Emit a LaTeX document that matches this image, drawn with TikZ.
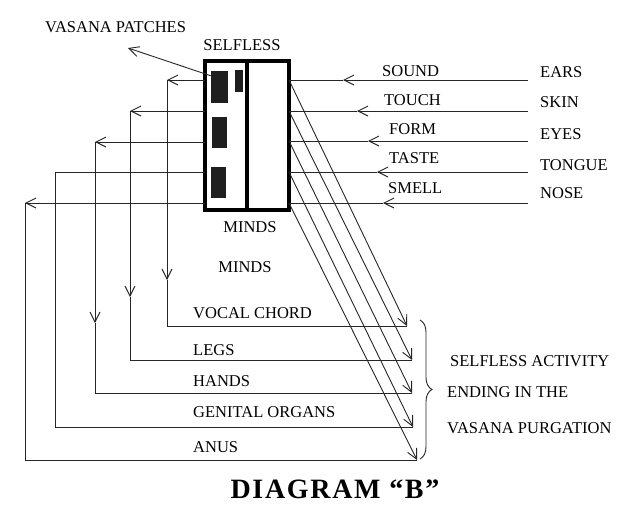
\documentclass[tikz,border=0pt]{standalone}
\usepackage{fontspec}
\setmainfont{Liberation Serif}
\usetikzlibrary{arrows.meta,decorations.pathreplacing}

\begin{document}
\begin{tikzpicture}[x=1pt,y=-1pt,
    lbl/.style={font=\fontsize{16.5}{19}\selectfont, inner sep=0pt},
    ln/.style={line width=0.9pt, black!85},
    arr/.style={ln, -{Straight Barb[length=10pt,width=10pt]}},
    mind/.style={draw, line width=4pt, minimum width=84pt, minimum height=149pt, inner sep=0pt},
    patch/.style={fill=black!88, inner sep=0pt}]
\useasboundingbox (0,0) rectangle (638,525);

% mind box and vasana patches
\node[mind] (box) at (247,135.5) {};
\draw[line width=4pt] (box.north) -- (box.south);
\node[patch, minimum width=17pt, minimum height=32pt] (pa) at (219.5,87) {};
\node[patch, minimum width=8pt, minimum height=22pt] (pb) at (239,81) {};
\node[patch, minimum width=15pt, minimum height=31pt] (pc) at (219.5,132.5) {};
\node[patch, minimum width=15pt, minimum height=31pt] (pd) at (218.5,182.5) {};

\node[lbl, anchor=base west] (vasana) at (45,32) {VASANA PATCHES};
\node[lbl, anchor=base] (selfless) at (242,50) {SELFLESS};
\node[lbl, anchor=base] (minds1) at (250,232) {MINDS};
\node[lbl, anchor=base] (minds2) at (245,272) {MINDS};
\coordinate (vtip) at (128,48);
\draw[arr] ([yshift=-5pt]pa.north west) -- (vtip);

% senses coming in
\node[lbl, anchor=base west] (ears) at (540,77) {EARS};
\node[lbl, anchor=base west] (skin) at (540,107) {SKIN};
\node[lbl, anchor=base west] (eyes) at (540,139) {EYES};
\node[lbl, anchor=base west] (tongue) at (540,170) {TONGUE};
\node[lbl, anchor=base west] (nose) at (540,198) {NOSE};
\node[lbl, anchor=base west] (sound) at (382,76) {SOUND};
\node[lbl, anchor=base west] (touch) at (384,105) {TOUCH};
\node[lbl, anchor=base west] (form) at (389,134) {FORM};
\node[lbl, anchor=base west] (taste) at (389,163) {TASTE};
\node[lbl, anchor=base west] (smell) at (388,193) {SMELL};

\coordinate (s1) at (528,80);  \coordinate (a1) at (343,80);  \coordinate (r1) at (289,80);
\coordinate (s2) at (528,111); \coordinate (a2) at (357,111); \coordinate (r2) at (289,111);
\coordinate (s3) at (528,141); \coordinate (a3) at (368,141); \coordinate (r3) at (289,141);
\coordinate (s4) at (528,172); \coordinate (a4) at (377,172); \coordinate (r4) at (289,172);
\coordinate (s5) at (528,203); \coordinate (a5) at (383,203); \coordinate (r5) at (289,203);
\draw[arr] (s1) -- (a1); \draw[ln] (a1) -- (r1);
\draw[arr] (s2) -- (a2); \draw[ln] (a2) -- (r2);
\draw[arr] (s3) -- (a3); \draw[ln] (a3) -- (r3);
\draw[arr] (s4) -- (a4); \draw[ln] (a4) -- (r4);
\draw[arr] (s5) -- (a5); \draw[ln] (a5) -- (r5);

% organs of action going out
\coordinate (l1) at (205,80);  \coordinate (k1) at (167,80);  \coordinate (m1) at (167,280); \coordinate (b1) at (167,326); \coordinate (e1) at (407,326);
\coordinate (l2) at (205,111); \coordinate (k2) at (130,111); \coordinate (m2) at (130,297); \coordinate (b2) at (130,360); \coordinate (e2) at (412,360);
\coordinate (l3) at (205,142); \coordinate (k3) at (95,142);  \coordinate (m3) at (95,323);  \coordinate (b3) at (95,393);  \coordinate (e3) at (412,393);
\coordinate (l4) at (205,172); \coordinate (k4) at (55,172);  \coordinate (b4) at (55,427);  \coordinate (e4) at (413,427);
\coordinate (l5) at (205,203); \coordinate (k5) at (25,203);  \coordinate (b5) at (25,460);  \coordinate (e5) at (417,460);
\draw[arr] (l1) -- (k1); \draw[arr] (k1) -- (m1); \draw[ln] (m1) -- (b1) -- (e1);
\draw[arr] (l2) -- (k2); \draw[arr] (k2) -- (m2); \draw[ln] (m2) -- (b2) -- (e2);
\draw[arr] (l3) -- (k3); \draw[arr] (k3) -- (m3); \draw[ln] (m3) -- (b3) -- (e3);
\draw[ln] (l4) -- (k4) -- (b4) -- (e4);
\draw[arr] (l5) -- (k5); \draw[ln] (k5) -- (b5) -- (e5);

\node[lbl, anchor=base west] (vocal) at (193,318) {VOCAL CHORD};
\node[lbl, anchor=base west] (legs) at (193,355) {LEGS};
\node[lbl, anchor=base west] (hands) at (193,386) {HANDS};
\node[lbl, anchor=base west] (genital) at (193,417) {GENITAL ORGANS};
\node[lbl, anchor=base west] (anus) at (193,452) {ANUS};

% selfless activity
\draw[arr] (r1) -- (e1);
\draw[arr] (r2) -- (e2);
\draw[arr] (r3) -- (e3);
\draw[arr] (r4) -- (e4);
\draw[arr] (r5) -- (e5);

\coordinate (btop) at (420,320);
\coordinate (bbot) at (420,459);
\draw[ln, decorate, decoration={brace, amplitude=12pt}] (btop) -- (bbot);
\node[lbl, anchor=base west] (act1) at (450,366) {SELFLESS ACTIVITY};
\node[lbl, anchor=base west] (act2) at (447,397) {ENDING IN THE};
\node[lbl, anchor=base west] (act3) at (447,433) {VASANA PURGATION};

\node[font=\bfseries\fontsize{28}{32}\selectfont\addfontfeature{LetterSpace=6}, anchor=base, inner sep=0pt] (title) at (335,498) {DIAGRAM “B”};
\end{tikzpicture}
\end{document}
